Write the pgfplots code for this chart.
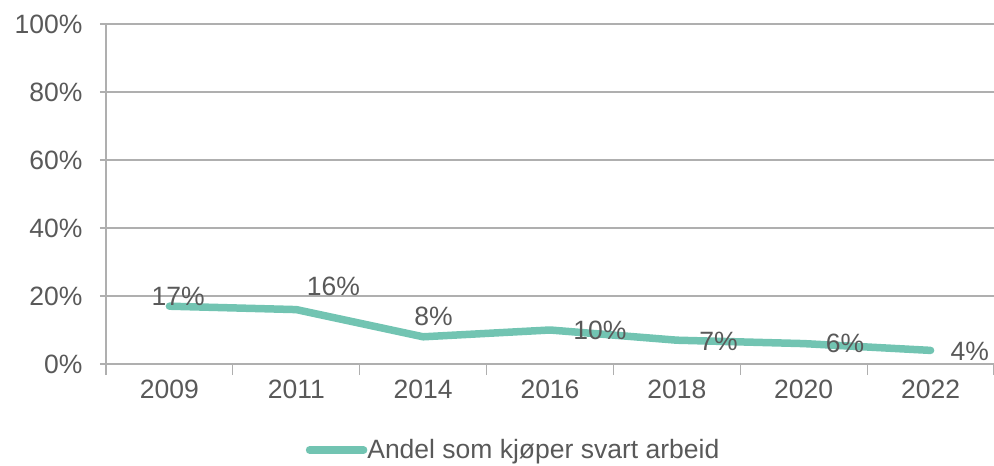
\documentclass[border=0pt]{standalone}
\usepackage{pgfplots}
\pgfplotsset{compat=1.18}
\usepackage{fontspec}
\setmainfont{Liberation Sans}
\definecolor{linec}{HTML}{72C4B2}
\definecolor{txt}{HTML}{595959}
\definecolor{gridc}{HTML}{AFAFAF}
\newcommand{\fs}{\fontsize{26.5bp}{30bp}\selectfont}
\begin{document}
\begin{tikzpicture}[font=\fs]
\begin{axis}[
  at={(106bp,102bp)}, anchor=south west,
  scale only axis, width=888bp, height=340bp,
  xmin=0, xmax=7, ymin=0, ymax=100,
  axis x line*=bottom, axis y line*=left,
  axis line style={draw=gridc, line width=1.2bp},
  /pgf/number format/assume math mode=true,
  xtick={0.5,1.5,2.5,3.5,4.5,5.5,6.5},
  xticklabels={2009,2011,2014,2016,2018,2020,2022},
  minor xtick={0,1,2,3,4,5,6,7},
  major x tick style={draw=none},
  minor tick length=11bp,
  major tick length=6bp,
  tick align=outside,
  tick style={draw=gridc, line width=1.2bp},
  ytick={0,20,40,60,80,100},
  yticklabels={0\%,20\%,40\%,60\%,80\%,100\%},
  ymajorgrids,
  grid style={draw=gridc, line width=1.2bp},
  tick label style={font=\fs, text=txt},
  xticklabel style={yshift=-6bp},
  yticklabel style={xshift=-14bp},
  legend style={at={(0.459,-0.253)}, anchor=center, draw=none, fill=none,
    font=\fs, text=txt, inner sep=0pt,
    /tikz/every even column/.append style={column sep=0pt}},
  legend image code/.code={\draw[#1, line cap=round] (0bp,0bp) -- (54bp,0bp);},
  clip=false,
]
\addplot[linec, line width=7.5bp, line cap=round, line join=round, mark=none]
  coordinates {(0.5,17) (1.5,16) (2.5,8) (3.5,10) (4.5,7) (5.5,6) (6.5,4)};
\addlegendentry{\hspace{-2bp}Andel som kjøper svart arbeid}
\addplot[draw=none, mark=none, forget plot,
  nodes near coords, point meta=explicit symbolic,
  every node near coord/.style={anchor=center, text=txt, inner sep=0pt,
    font=\fs}]
  coordinates {
    (0.568,20.0) [17\%]
    (1.793,22.9) [16\%]
    (2.582,14.1) [8\%]
    (3.894,9.85) [10\%]
    (4.828,6.76) [7\%]
    (5.825,6.03) [6\%]
    (6.81,3.68) [4\%]
  };
\end{axis}
\pgfresetboundingbox
\useasboundingbox (0,0) rectangle (994bp,466bp);
\end{tikzpicture}
\end{document}
